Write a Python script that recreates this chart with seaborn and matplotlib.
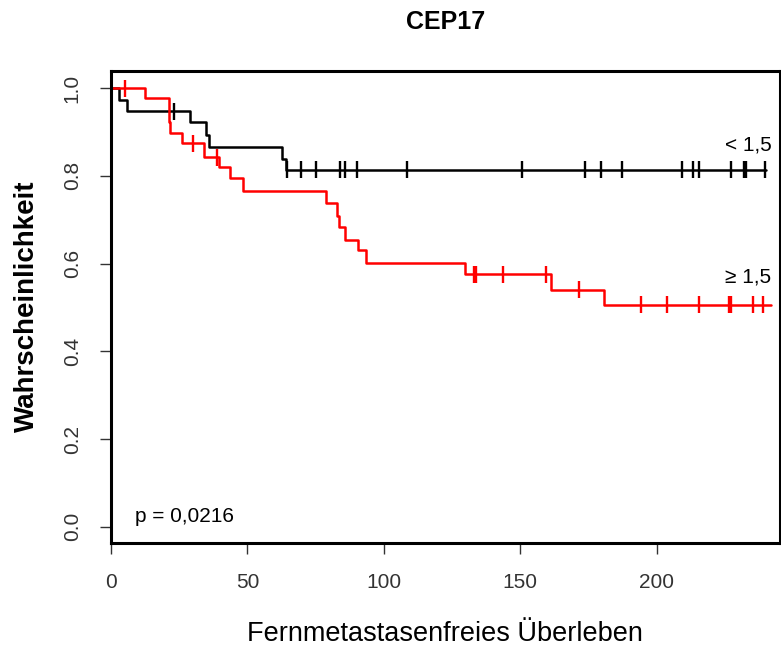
import numpy as np
import pandas as pd
import matplotlib
matplotlib.use("Agg")
import matplotlib.pyplot as plt
import seaborn as sns

# Kaplan-Meier steps (time, survival after the step)
black_times = [0, 2.9, 5.7, 28.9, 34.7, 35.9, 62.5, 64.0]
black_surv = [1.0, 0.973, 0.947, 0.922, 0.893, 0.867, 0.838, 0.814]
black_end = 240.2
black_cens = [23.1, 64.5, 69.8, 75.0, 83.8, 85.9, 90.2, 108.6, 150.8, 173.6, 179.7,
              187.4, 209.4, 213.3, 215.5, 227.4, 231.9, 232.9, 239.6]

red_times = [0, 12.4, 21.2, 21.8, 26.2, 34.1, 39.5, 43.5, 48.4, 78.7, 82.9, 83.6,
             85.8, 90.7, 93.6, 129.6, 161.4, 180.7]
red_surv = [1.0, 0.977, 0.924, 0.899, 0.875, 0.843, 0.820, 0.795, 0.766, 0.738, 0.709,
            0.684, 0.654, 0.630, 0.601, 0.576, 0.540, 0.506]
red_end = 242.0
red_cens = [5.1, 29.9, 38.9, 132.9, 133.7, 143.5, 159.6, 171.5, 194.1, 203.6, 215.5,
            226.5, 227.4, 235.1, 239.0]

groups = ["< 1,5", "\u2265 1,5"]
colors = {"< 1,5": "black", "\u2265 1,5": "#FF0000"}
p_text = "p = 0,0216"


def curve_frame(name, times, surv, end):
    t = list(times) + [end]
    s = list(surv) + [surv[-1]]
    return pd.DataFrame({"time": t, "surv": s, "group": name})


def cens_frame(name, times, surv, cens):
    idx = np.searchsorted(times, cens, side="right") - 1
    return pd.DataFrame({"time": cens, "surv": np.array(surv)[idx], "group": name})


curves = pd.concat([curve_frame(groups[0], black_times, black_surv, black_end),
                    curve_frame(groups[1], red_times, red_surv, red_end)])
marks = pd.concat([cens_frame(groups[0], black_times, black_surv, black_cens),
                   cens_frame(groups[1], red_times, red_surv, red_cens)])

sns.set_theme(style="ticks")
plt.rcParams["font.family"] = ["Liberation Sans", "DejaVu Sans"]

fig = plt.figure(figsize=(7.81, 6.48), dpi=100)
ax = fig.add_axes([0.1421, 0.1625, 0.856, 0.7284])

sns.lineplot(data=curves, x="time", y="surv", hue="group", palette=colors,
             drawstyle="steps-post", estimator=None, sort=False, legend=False,
             linewidth=1.8, ax=ax)
sns.scatterplot(data=marks, x="time", y="surv", hue="group", palette=colors,
                marker="|", s=150, linewidth=1.7, legend=False, zorder=3, ax=ax)

ax.set_xlim(0, 245)
ax.set_ylim(-0.0365, 1.040)
ax.set_xticks([0, 50, 100, 150, 200])
ax.set_yticks([0.0, 0.2, 0.4, 0.6, 0.8, 1.0])
ax.set_yticklabels(["0.0", "0.2", "0.4", "0.6", "0.8", "1.0"])
ax.tick_params(axis="both", direction="out", length=8, width=1.0, color="#333333",
               labelsize=15, labelcolor="#333333")
ax.tick_params(axis="x", pad=14)
ax.tick_params(axis="y", pad=13, labelrotation=90)
for lab in ax.get_yticklabels():
    lab.set_va("center")

for sp in ax.spines.values():
    sp.set_visible(True)
    sp.set_linewidth(2.2)
    sp.set_color("black")

ax.set_xlabel("Fernmetastasenfreies \u00dcberleben", fontsize=19.5, color="black")
ax.set_ylabel("Wahrscheinlichkeit", fontsize=20, fontweight="bold", color="black")
ax.xaxis.set_label_coords(0.5, -0.165)
ax.yaxis.set_label_coords(-0.106, 0.5)
ax.set_title("CEP17", fontsize=18, fontweight="bold", pad=30, color="black")

ax.text(242.1, 0.870, groups[0], ha="right", va="center", fontsize=15, color="black")
ax.text(242.1, 0.570, groups[1], ha="right", va="center", fontsize=15, color="black")
ax.text(8.7, 0.0114, p_text, ha="left", va="baseline", fontsize=15, color="black")

fig.savefig("out.png", dpi=100)
